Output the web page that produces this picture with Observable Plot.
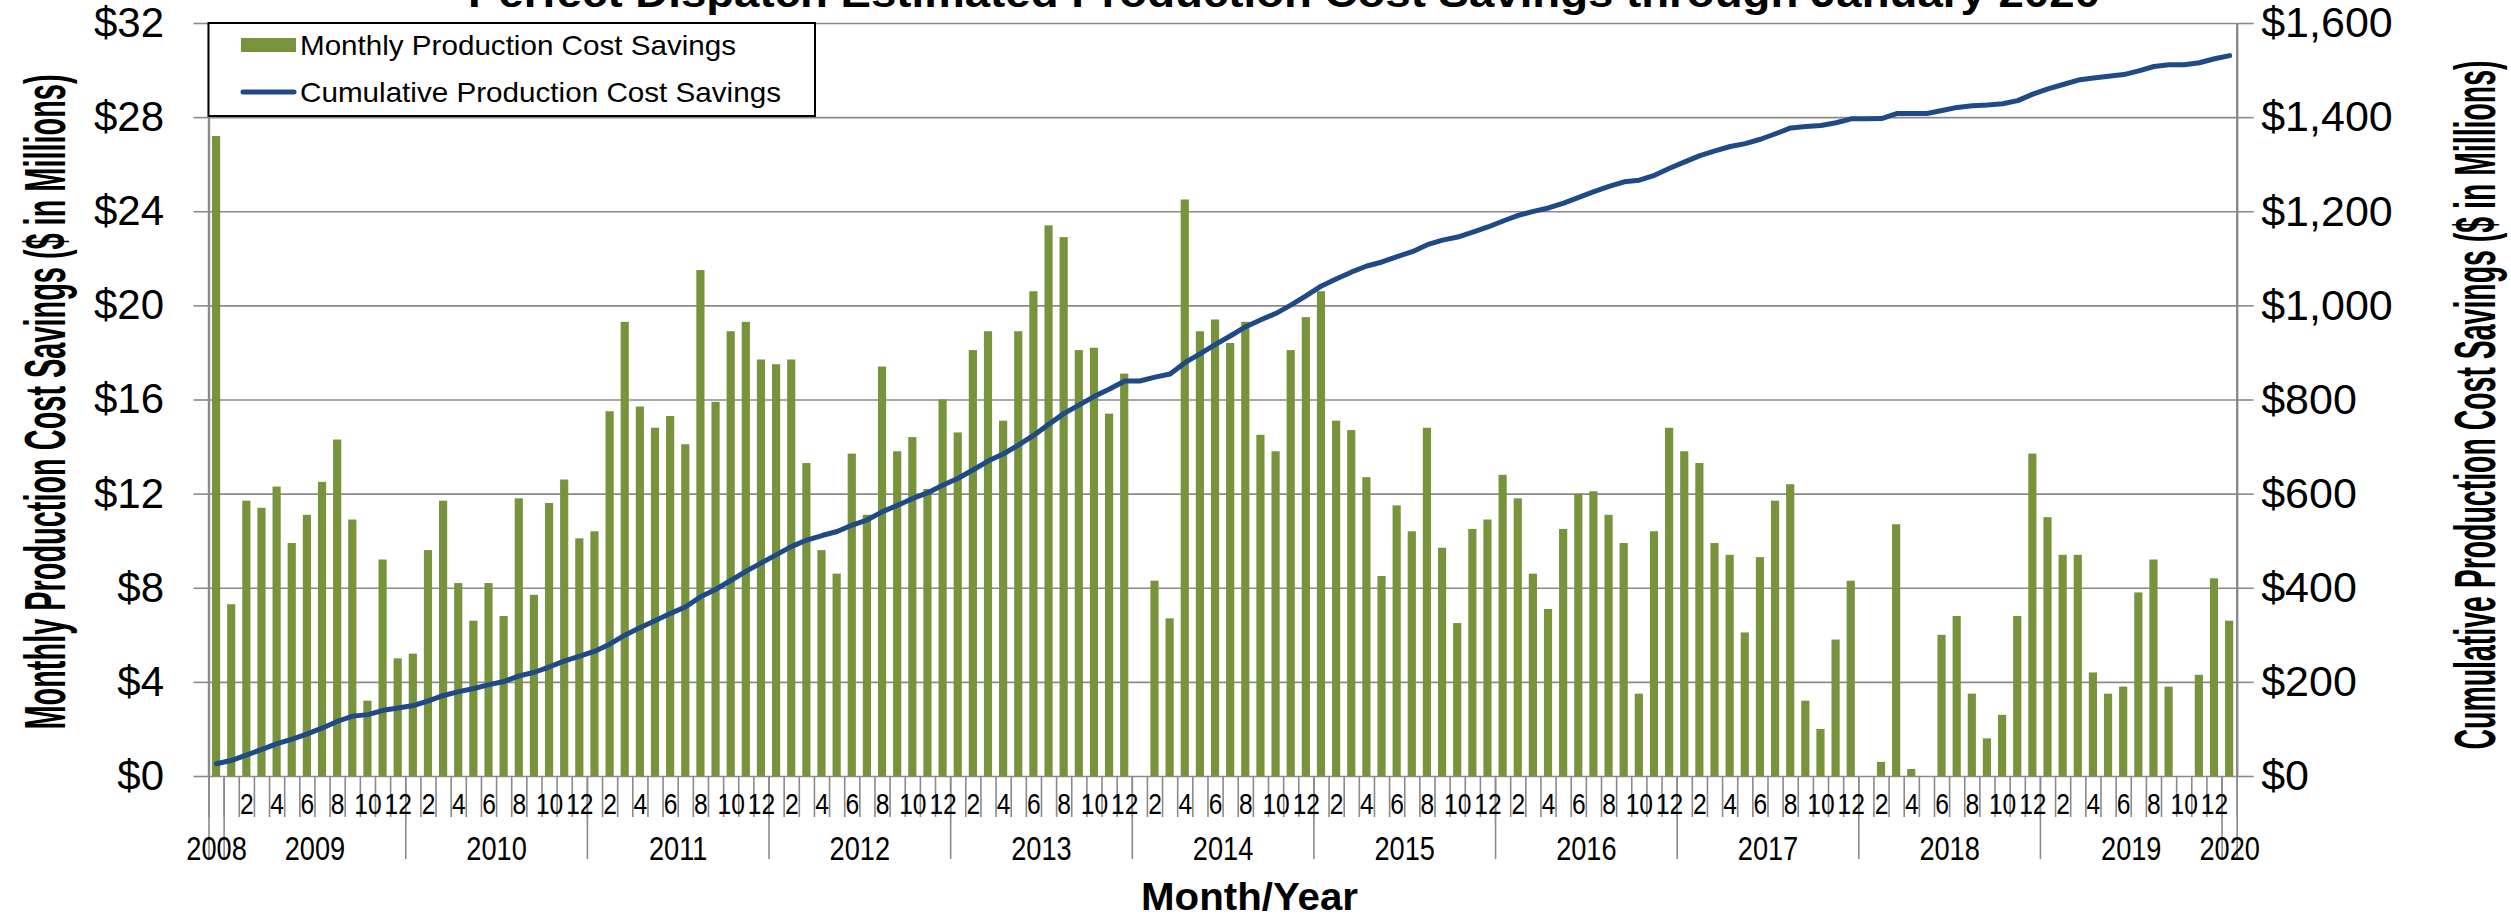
<!DOCTYPE html>
<html>
<head>
<meta charset="utf-8">
<script src="https://cdn.jsdelivr.net/npm/d3@7"></script>
<script src="https://cdn.jsdelivr.net/npm/@observablehq/plot@0.6"></script>
<style>
  html, body { margin: 0; padding: 0; background: #fff; }
  #chart { width: 2511px; height: 916px; overflow: hidden; }
</style>
</head>
<body>
<div id="chart"></div>
<script>
// ---------------- data ----------------
const chartTitle = "Perfect Dispatch Estimated Production Cost Savings through January 2020";
const seriesNames = ["Monthly Production Cost Savings", "Cumulative Production Cost Savings"];
const yTitleLeft = "Monthly Production Cost Savings ($ in Millions)";
const yTitleRight = "Cumulative Production Cost Savings ($ in Millions)";
const xTitle = "Month/Year";

// Monthly savings ($M), Dec 2008 .. Jan 2020
const monthly = [
  27.2,
  7.3, 11.7, 11.4, 12.3, 9.9, 11.1, 12.5, 14.3, 10.9, 3.2, 9.2, 5.0,
  5.2, 9.6, 11.7, 8.2, 6.6, 8.2, 6.8, 11.8, 7.7, 11.6, 12.6, 10.1,
  10.4, 15.5, 19.3, 15.7, 14.8, 15.3, 14.1, 21.5, 15.9, 18.9, 19.3, 17.7,
  17.5, 17.7, 13.3, 9.6, 8.6, 13.7, 11.1, 17.4, 13.8, 14.4, 12.2, 16.0,
  14.6, 18.1, 18.9, 15.1, 18.9, 20.6, 23.4, 22.9, 18.1, 18.2, 15.4, 17.1,
  0, 8.3, 6.7, 24.5, 18.9, 19.4, 18.4, 19.3, 14.5, 13.8, 18.1, 19.5,
  20.6, 15.1, 14.7, 12.7, 8.5, 11.5, 10.4, 14.8, 9.7, 6.5, 10.5, 10.9,
  12.8, 11.8, 8.6, 7.1, 10.5, 12.0, 12.1, 11.1, 9.9, 3.5, 10.4, 14.8,
  13.8, 13.3, 9.9, 9.4, 6.1, 9.3, 11.7, 12.4, 3.2, 2.0, 5.8, 8.3,
  0, 0.6, 10.7, 0.3, 0, 6.0, 6.8, 3.5, 1.6, 2.6, 6.8, 13.7,
  11.0, 9.4, 9.4, 4.4, 3.5, 3.8, 7.8, 9.2, 3.8, 0, 4.3, 8.4,
  6.6
];

// Cumulative savings ($M), Dec 2008 .. Jan 2020
const cumulative = [
  27.2,
  34.4, 46.1, 57.5, 69.7, 79.6, 90.7, 103.2, 117.4, 128.3, 131.5, 140.7, 145.7,
  150.9, 160.5, 172.2, 180.4, 187.0, 195.2, 202.0, 213.8, 221.5, 233.1, 245.7, 255.7,
  266.2, 281.6, 300.9, 316.6, 331.4, 346.7, 360.7, 382.2, 398.1, 417.0, 436.3, 454.0,
  471.4, 489.1, 502.4, 512.0, 520.6, 534.3, 545.4, 562.8, 576.5, 590.9, 603.1, 619.2,
  633.7, 651.8, 670.7, 685.8, 704.7, 725.3, 748.7, 771.5, 789.6, 807.8, 823.2, 840.3,
  840.3, 848.6, 855.3, 879.8, 898.7, 918.2, 936.5, 955.8, 970.4, 984.2, 1002.2, 1021.7,
  1042.3, 1057.4, 1072.1, 1084.8, 1093.3, 1104.8, 1115.2, 1130.0, 1139.7, 1146.3, 1156.8, 1167.7,
  1180.4, 1192.2, 1200.8, 1208.0, 1218.5, 1230.5, 1242.6, 1253.7, 1263.6, 1267.1, 1277.5, 1292.3,
  1306.0, 1319.3, 1329.2, 1338.6, 1344.7, 1354.0, 1365.7, 1378.1, 1381.3, 1383.3, 1389.1, 1397.4,
  1397.4, 1398.0, 1408.7, 1408.9, 1408.9, 1415.0, 1421.7, 1425.3, 1426.9, 1429.5, 1436.2, 1449.9,
  1461.0, 1470.4, 1479.8, 1484.3, 1487.7, 1491.5, 1499.4, 1508.6, 1512.3, 1512.3, 1516.6, 1525.1,
  1531.7
];

const leftTicks = [0, 4, 8, 12, 16, 20, 24, 28, 32];
const leftTickLabels = ["$0", "$4", "$8", "$12", "$16", "$20", "$24", "$28", "$32"];
const rightTicks = [0, 200, 400, 600, 800, 1000, 1200, 1400, 1600];
const rightTickLabels = ["$0", "$200", "$400", "$600", "$800", "$1,000", "$1,200", "$1,400", "$1,600"];
const monthTickLabels = ["2", "4", "6", "8", "10", "12"];
const yearLabels = ["2008", "2009", "2010", "2011", "2012", "2013", "2014", "2015", "2016", "2017", "2018", "2019", "2020"];

// ---------------- build ----------------
const months = d3.utcMonth.range(new Date(Date.UTC(2008, 11, 1)), new Date(Date.UTC(2020, 1, 1)));
const data = months.map((d, i) => ({
  i, date: d, year: String(d.getUTCFullYear()), month: d.getUTCMonth() + 1,
  monthly: monthly[i], cumulative: cumulative[i]
}));
const ratio = rightTicks[rightTicks.length - 1] / leftTicks[leftTicks.length - 1];
const n = data.length;

const monthLabelTicks = data.filter(d => d.i > 0 && d.month % 2 === 0).map(d => d.i);
const monthLabelOf = new Map(data.map(d => [d.i, monthTickLabels[d.month / 2 - 1]]));
const yearCenters = yearLabels.map(y => d3.mean(data.filter(d => d.year === y), d => d.i));
const yearOfCenter = new Map(yearCenters.map((c, k) => [c, yearLabels[k]]));
const monthBoundaries = d3.range(n + 1).map(k => k - 0.5);
const yearBoundaries = [-0.5, ...data.filter(d => d.month === 1).map(d => d.i - 0.5), n - 0.5];

const gray = "#8a8a8a";
const green = "#77933C";
const blue = "#1F4A86";
const font = "'Liberation Sans', Arial, Helvetica, sans-serif";
const MONTH_FS = 30, YEAR_FS = 34;

const plot = Plot.plot({
  width: 2511,
  height: 916,
  marginTop: 23,
  marginBottom: 140,
  marginLeft: 208.5,
  marginRight: 274.3,
  style: { fontFamily: font, background: "#fff", color: "#000", overflow: "hidden" },
  x: { type: "linear", domain: [-0.5, n - 0.5], axis: null, label: null },
  y: { domain: [leftTicks[0], leftTicks[leftTicks.length - 1]], axis: null, label: null },
  marks: [
    Plot.gridY(leftTicks, { stroke: gray, strokeOpacity: 1, strokeWidth: 1.6 }),
    Plot.axisY(leftTicks, {
      anchor: "left", tickSize: 15, tickPadding: 30, stroke: gray, strokeWidth: 1.6,
      tickFormat: d => leftTickLabels[leftTicks.indexOf(d)], fontSize: 42, label: null
    }),
    Plot.axisY(rightTicks.map(v => v / ratio), {
      anchor: "right", tickSize: 16, tickPadding: 8, stroke: gray, strokeWidth: 1.6,
      tickFormat: d => rightTickLabels[rightTicks.indexOf(d * ratio)], fontSize: 43, label: null
    }),
    // category tick lines below the axis
    Plot.axisX(monthBoundaries, {
      anchor: "bottom", tickSize: 41, stroke: gray, strokeWidth: 1.6, tickFormat: () => null, label: null
    }),
    Plot.axisX(yearBoundaries, {
      anchor: "bottom", tickSize: 83, stroke: gray, strokeWidth: 1.6, tickFormat: () => null, label: null
    }),
    Plot.axisX(monthLabelTicks, {
      anchor: "bottom", tickSize: 0, tickPadding: 16, tickFormat: d => monthLabelOf.get(d),
      fontSize: MONTH_FS, label: null
    }),
    Plot.axisX(yearCenters, {
      anchor: "bottom", tickSize: 0, tickPadding: 59, tickFormat: d => yearOfCenter.get(d),
      fontSize: YEAR_FS, label: null
    }),
    Plot.rectY(data, {
      x1: d => d.i - 0.27, x2: d => d.i + 0.27, y1: 0, y2: "monthly", fill: green
    }),
    Plot.ruleX([-0.5, n - 0.5], { stroke: gray, strokeWidth: 2.4 }),
    Plot.line(data, {
      x: "i", y: d => d.cumulative / ratio, stroke: blue, strokeWidth: 5,
      strokeLinejoin: "round", strokeLinecap: "round"
    })
  ]
});

document.getElementById("chart").appendChild(plot);

const svg = d3.select(plot);

// narrow the category labels horizontally (tall, condensed look of the source)
function squeeze(sel, s) {
  sel.each(function () {
    const t = d3.select(this);
    let tr = t.attr("transform") || "";
    const xa = t.attr("x");
    if (xa != null && xa !== "" && !isNaN(+xa)) {
      tr += ` translate(${+xa},0)`;
      t.attr("x", null);
    }
    t.attr("transform", `${tr} scale(${s},1)`);
  });
}
svg.selectAll("g[aria-label='x-axis tick label']").each(function () {
  const g = d3.select(this);
  const fs = +g.attr("font-size");
  squeeze(g.selectAll("text"), fs === MONTH_FS ? 0.82 : 0.8);
});

// ---------------- titles & legend ----------------
const txt = (x, y, s, size, len, weight, anchor) => {
  const t = svg.append("text")
    .attr("x", x).attr("y", y)
    .attr("font-family", font)
    .attr("font-size", size)
    .attr("font-weight", weight || "normal")
    .attr("text-anchor", anchor || "start")
    .attr("fill", "#000")
    .text(s);
  if (len) t.attr("textLength", len).attr("lengthAdjust", "spacingAndGlyphs");
  return t;
};

// chart title (cut by the top edge as in the source picture)
txt(1284, 7, chartTitle, 40, 1632, "bold", "middle");

// axis titles
txt(0, 0, yTitleLeft, 58, 655, "bold", "middle")
  .attr("dominant-baseline", "central")
  .attr("transform", "translate(44,402) rotate(-90)");
txt(0, 0, yTitleRight, 58, 689, "bold", "middle")
  .attr("dominant-baseline", "central")
  .attr("transform", "translate(2474,405) rotate(-90)");
txt(1249.5, 910, xTitle, 38, 217, "bold", "middle");

// legend
const lg = svg.append("g");
lg.append("rect").attr("x", 208.5).attr("y", 23).attr("width", 606.5).attr("height", 93)
  .attr("fill", "#fff").attr("stroke", "#000").attr("stroke-width", 2);
lg.append("rect").attr("x", 241).attr("y", 38).attr("width", 55).attr("height", 14).attr("fill", green);
lg.append("line").attr("x1", 243).attr("x2", 294).attr("y1", 92).attr("y2", 92)
  .attr("stroke", blue).attr("stroke-width", 5).attr("stroke-linecap", "round");
txt(300, 55, seriesNames[0], 28, 436);
txt(300, 102, seriesNames[1], 28, 481);
</script>
</body>
</html>
